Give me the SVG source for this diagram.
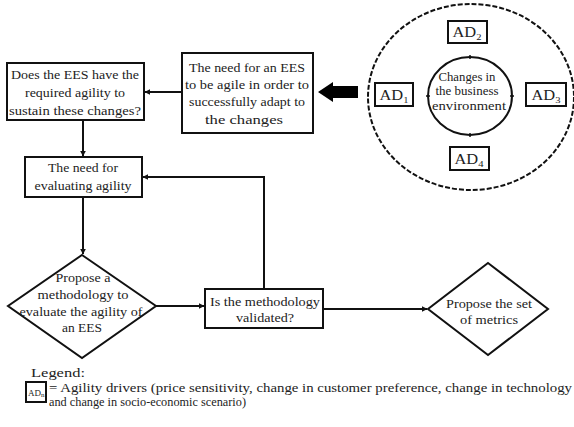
<svg xmlns="http://www.w3.org/2000/svg" width="574" height="427" viewBox="0 0 574 427" font-family="'Liberation Serif', 'Times New Roman', serif">
<defs>
<style>
.box{fill:#fff;stroke:#111;stroke-width:2}
.ad{fill:#fff;stroke:#111;stroke-width:2}
text{font-family:'Liberation Serif','Times New Roman',serif}
.t{font-size:13px;fill:#222;text-anchor:middle}
.s{font-size:9px}
.c{fill:none;stroke:#111;stroke-width:2}
.l{font-size:12.5px;fill:#222}
</style>
<marker id="ah" viewBox="0 0 10 10" refX="9" refY="5" markerWidth="6" markerHeight="6" orient="auto" markerUnits="userSpaceOnUse">
<path d="M0,0 L10,5 L0,10 z" fill="#111"/>
</marker>
</defs>
<rect width="574" height="427" fill="#fff"/>

<g id="connectors">
<path class="c" d="M182,92 L145,92" marker-end="url(#ah)"/>
<path class="c" d="M83,120 L83,156" marker-end="url(#ah)"/>
<path class="c" d="M83,197 L83,254" marker-end="url(#ah)"/>
<path class="c" d="M156,306 L204,306" marker-end="url(#ah)"/>
<path class="c" d="M264,289 L264,177 L143,177" marker-end="url(#ah)"/>
<path class="c" d="M323,309 L427,309" marker-end="url(#ah)"/>
<path d="M318,92 L333,82 L333,86 L358,86 L358,98 L333,98 L333,102 z" fill="#000"/>
</g>

<g id="env">
<ellipse cx="471" cy="97" rx="103" ry="93" fill="none" stroke="#111" stroke-width="2" stroke-dasharray="5,2"/>
<ellipse cx="470" cy="96" rx="42" ry="39" fill="#fff" stroke="#111" stroke-width="2"/>
<path d="M470,55 v4 M470,133 v4 M426,96 h4 M510,96 h4" stroke="#111" stroke-width="1.5"/>
<text class="t" style="font-size:12px" x="467" y="81" textLength="57" lengthAdjust="spacingAndGlyphs">Changes in</text>
<text class="t" style="font-size:12px" x="467" y="95" textLength="63" lengthAdjust="spacingAndGlyphs">the business</text>
<text class="t" style="font-size:12px" x="469" y="110" textLength="74" lengthAdjust="spacingAndGlyphs">environment</text>
</g>

<g id="ad1"><rect class="ad" x="375" y="83" width="38" height="23"/><text class="t" style="font-size:14px" x="394" y="100" textLength="29" lengthAdjust="spacingAndGlyphs">AD<tspan class="s" dy="3">1</tspan></text></g>
<g id="ad2"><rect class="ad" x="448" y="21" width="39" height="22"/><text class="t" style="font-size:14px" x="467" y="37" textLength="29" lengthAdjust="spacingAndGlyphs">AD<tspan class="s" dy="3">2</tspan></text></g>
<g id="ad3"><rect class="ad" x="526" y="83" width="40" height="23"/><text class="t" style="font-size:14px" x="546" y="100" textLength="29" lengthAdjust="spacingAndGlyphs">AD<tspan class="s" dy="3">3</tspan></text></g>
<g id="ad4"><rect class="ad" x="450" y="147" width="39" height="23"/><text class="t" style="font-size:14px" x="469" y="164" textLength="29" lengthAdjust="spacingAndGlyphs">AD<tspan class="s" dy="3">4</tspan></text></g>

<g id="need-ees">
<rect class="box" x="182" y="53" width="131" height="80"/>
<text class="t" x="247" y="72" textLength="116" lengthAdjust="spacingAndGlyphs">The need for an EES</text>
<text class="t" x="247" y="89" textLength="124" lengthAdjust="spacingAndGlyphs">to be agile in order to</text>
<text class="t" x="247" y="106" textLength="116" lengthAdjust="spacingAndGlyphs">successfully adapt to</text>
<text class="t" x="244" y="124" textLength="78" lengthAdjust="spacingAndGlyphs">the changes</text>
</g>

<g id="does-ees">
<rect class="box" x="7" y="63" width="137" height="57"/>
<text class="t" x="75" y="79" textLength="128" lengthAdjust="spacingAndGlyphs">Does the EES have the</text>
<text class="t" x="75" y="97" textLength="100" lengthAdjust="spacingAndGlyphs">required agility to</text>
<text class="t" x="75" y="115" textLength="132" lengthAdjust="spacingAndGlyphs">sustain these changes?</text>
</g>

<g id="need-eval">
<rect class="box" x="25" y="157" width="117" height="40"/>
<text class="t" x="83" y="172" textLength="70" lengthAdjust="spacingAndGlyphs">The need for</text>
<text class="t" x="83" y="190" textLength="97" lengthAdjust="spacingAndGlyphs">evaluating agility</text>
</g>

<g id="propose-method">
<path class="box" d="M82,255 L156,306 L82,358 L8,306 z"/>
<text class="t" x="83" y="282" textLength="55" lengthAdjust="spacingAndGlyphs">Propose a</text>
<text class="t" x="83" y="299" textLength="91" lengthAdjust="spacingAndGlyphs">methodology to</text>
<text class="t" x="81" y="316" textLength="123" lengthAdjust="spacingAndGlyphs">evaluate the agility of</text>
<text class="t" x="82" y="332" textLength="40" lengthAdjust="spacingAndGlyphs">an EES</text>
</g>

<g id="validated">
<rect class="box" x="205" y="289" width="118" height="39"/>
<text class="t" x="265" y="306" textLength="110" lengthAdjust="spacingAndGlyphs">Is the methodology</text>
<text class="t" x="265" y="322" textLength="58" lengthAdjust="spacingAndGlyphs">validated?</text>
</g>

<g id="metrics">
<path class="box" d="M488,263 L548,309 L488,355 L428,309 z"/>
<text class="t" x="489" y="308" textLength="86" lengthAdjust="spacingAndGlyphs">Propose the set</text>
<text class="t" x="489" y="324" textLength="58" lengthAdjust="spacingAndGlyphs">of metrics</text>
</g>

<g id="legend">
<text class="l" x="31" y="377" textLength="54" lengthAdjust="spacingAndGlyphs">Legend:</text>
<rect class="ad" x="26" y="382" width="20" height="20"/>
<text class="l" x="28" y="396" style="font-size:9px">AD<tspan style="font-size:7px" dy="1">n</tspan></text>
<text class="l" x="49" y="392" textLength="523" lengthAdjust="spacingAndGlyphs">= Agility drivers (price sensitivity, change in customer preference, change in technology</text>
<text class="l" x="49" y="406" textLength="197" lengthAdjust="spacingAndGlyphs">and change in socio-economic scenario)</text>
</g>
</svg>
